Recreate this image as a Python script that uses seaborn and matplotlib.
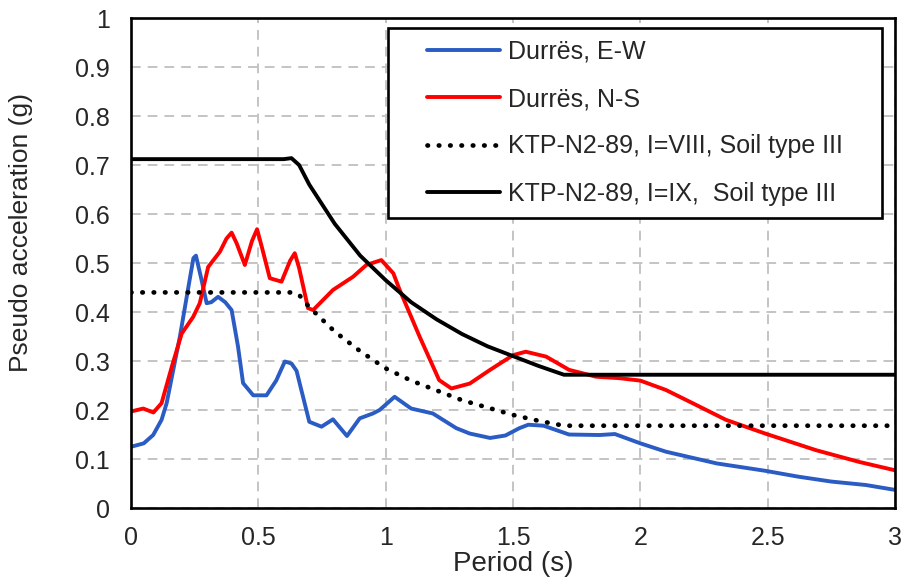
import numpy as np
import pandas as pd
import matplotlib
matplotlib.use('Agg')
import matplotlib.pyplot as plt
import seaborn as sns
from matplotlib.lines import Line2D
from matplotlib.legend_handler import HandlerLine2D

# Durrës, E-W
ew_T = [0.0, 0.05, 0.087, 0.12, 0.14, 0.192, 0.225, 0.245, 0.255, 0.275, 0.297, 0.315, 0.342, 0.37, 0.395,
        0.42, 0.44, 0.48, 0.532, 0.57, 0.604, 0.63, 0.65, 0.70, 0.748, 0.793, 0.848, 0.898, 0.95, 0.976,
        1.035, 1.10, 1.185, 1.277, 1.33, 1.41, 1.47, 1.525, 1.56, 1.62, 1.72, 1.84, 1.90, 2.0, 2.10, 2.30,
        2.49, 2.62, 2.75, 2.885, 3.0]
ew_A = [0.125, 0.132, 0.149, 0.18, 0.214, 0.35, 0.45, 0.51, 0.515, 0.47, 0.418, 0.42, 0.431, 0.42, 0.404,
        0.33, 0.255, 0.23, 0.23, 0.26, 0.299, 0.295, 0.28, 0.176, 0.166, 0.181, 0.147, 0.183, 0.193, 0.20,
        0.227, 0.203, 0.193, 0.163, 0.152, 0.143, 0.148, 0.163, 0.17, 0.168, 0.15, 0.149, 0.151, 0.132, 0.115,
        0.091, 0.076, 0.064, 0.054, 0.047, 0.037]

# Durrës, N-S
ns_T = [0.0, 0.048, 0.088, 0.12, 0.16, 0.199, 0.244, 0.27, 0.303, 0.349, 0.375, 0.395, 0.415, 0.447,
        0.475, 0.495, 0.515, 0.545, 0.591, 0.625, 0.643, 0.66, 0.695, 0.715, 0.793, 0.872, 0.924, 0.983,
        1.03, 1.055, 1.133, 1.21, 1.258, 1.33, 1.41, 1.50, 1.55, 1.63, 1.72, 1.826, 1.918, 2.0, 2.10, 2.205,
        2.336, 2.49, 2.69, 2.86, 3.0]
ns_A = [0.197, 0.203, 0.195, 0.214, 0.288, 0.356, 0.39, 0.418, 0.492, 0.523, 0.55, 0.562, 0.54, 0.496,
        0.545, 0.569, 0.53, 0.469, 0.462, 0.505, 0.52, 0.49, 0.408, 0.404, 0.445, 0.472, 0.496, 0.506,
        0.479, 0.445, 0.35, 0.261, 0.244, 0.254, 0.282, 0.312, 0.319, 0.309, 0.282, 0.268, 0.265, 0.26,
        0.241, 0.214, 0.18, 0.152, 0.118, 0.094, 0.077]

# KTP-N2-89 design spectra
code_T = [0.0, 0.6, 0.63, 0.66, 0.7, 0.8, 0.9, 1.0, 1.1, 1.2, 1.3, 1.4, 1.5, 1.6, 1.7, 3.0]
viii_A = [0.44, 0.44, 0.44, 0.435, 0.41, 0.36, 0.32, 0.285, 0.26, 0.24, 0.22, 0.205, 0.19, 0.178, 0.168, 0.168]
ix_A = [0.712, 0.712, 0.714, 0.70, 0.66, 0.58, 0.515, 0.465, 0.42, 0.385, 0.355, 0.33, 0.31, 0.29, 0.272, 0.272]

labels = ['Durrës, E-W', 'Durrës, N-S', 'KTP-N2-89, I=VIII, Soil type III', 'KTP-N2-89, I=IX,  Soil type III']

sns.set_theme(style='white')
plt.rcParams['font.family'] = ['Liberation Sans', 'DejaVu Sans']

fig = plt.figure(figsize=(9.01, 5.83), dpi=100)
ax = fig.add_axes([0.1454, 0.1286, 0.848, 0.8405])

sns.lineplot(x=ew_T, y=ew_A, ax=ax, color='#2A5CC4', linewidth=2.8, label=labels[0], sort=False)
sns.lineplot(x=ns_T, y=ns_A, ax=ax, color='#FF0000', linewidth=2.8, label=labels[1], sort=False)
sns.lineplot(x=code_T, y=viii_A, ax=ax, color='black', linewidth=3.4, label=labels[2], sort=False)
ax.lines[-1].set_linestyle((0, (0.1, 2.3)))
ax.lines[-1].set_dash_capstyle('round')
sns.lineplot(x=code_T, y=ix_A, ax=ax, color='black', linewidth=2.8, label=labels[3], sort=False)

ax.set_xlim(0, 3)
ax.set_ylim(0, 1)
ax.set_xticks([0, 0.5, 1, 1.5, 2, 2.5, 3])
ax.set_xticklabels(['0', '0.5', '1', '1.5', '2', '2.5', '3'])
ax.set_yticks(np.arange(0, 1.01, 0.1))
ax.set_yticklabels(['0', '0.1', '0.2', '0.3', '0.4', '0.5', '0.6', '0.7', '0.8', '0.9', '1'])
ax.tick_params(axis='both', labelsize=18, labelcolor='#262626', length=0)
ax.tick_params(axis='x', pad=13)
ax.tick_params(axis='y', pad=15)
ax.grid(True, color='#C4C4C4', linestyle=(0, (5, 3.6)), linewidth=1.4)
ax.set_axisbelow(True)
for s in ax.spines.values():
    s.set_color('black')
    s.set_linewidth(1.9)

ax.set_xlabel('Period (s)', fontsize=20, color='#262626', labelpad=1)
ax.set_ylabel('Pseudo acceleration (g)', fontsize=19, color='#262626')
ax.yaxis.set_label_coords(-0.128, 0.563)

leg = ax.legend(loc='upper left', bbox_to_anchor=(0.336, 0.98, 0.647, 0.0), mode='expand',
                fontsize=18, frameon=True, fancybox=False, handlelength=4.0, handletextpad=0.32,
                labelspacing=0.93, borderpad=0.48, borderaxespad=0,
                handler_map={Line2D: HandlerLine2D(xpad=1.1)})
leg.get_frame().set_edgecolor('black')
leg.get_frame().set_linewidth(1.9)
leg.get_frame().set_alpha(1)
for t in leg.get_texts():
    t.set_color('#262626')

fig.savefig('out.png', dpi=100)
